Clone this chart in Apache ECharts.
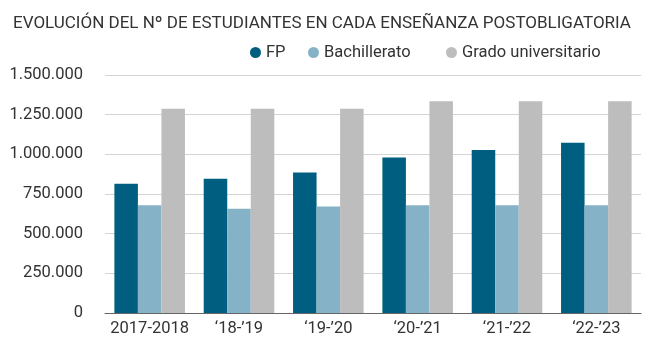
<!DOCTYPE html>
<html><head><meta charset="utf-8">
<script src="https://cdn.jsdelivr.net/npm/echarts@6/dist/echarts.min.js"></script>
<style>html,body{margin:0;padding:0;background:#fff}#c{width:669px;height:342px}</style>
</head><body><div id="c"></div>
<script>
const categories = ['2017-2018', '\u201818-\u201919', '\u201819-\u201920', '\u201820-\u201921', '\u201821-\u201922', '\u201822-\u201923'];
const fp = [814000, 846000, 886000, 980000, 1027000, 1073000];
const bachillerato = [679000, 657000, 671000, 679000, 679000, 679000];
const grado = [1288000, 1288000, 1288000, 1334000, 1334000, 1334000];
const yTicks = [0, 250000, 500000, 750000, 1000000, 1250000, 1500000];
const seriesNames = ['FP', 'Bachillerato', 'Grado universitario'];

const fmt = v => String(v).replace(/\B(?=(\d{3})+(?!\d))/g, '.');
const chart = echarts.init(document.getElementById('c'));
const font = 'Roboto';
const legendBase = {
  top: 39, icon: 'circle', itemWidth: 11, itemHeight: 11,
  textStyle: {fontFamily: font, fontSize: 16.5, color: '#333'}
};
chart.setOption({
  animation: false,
  title: {
    text: 'EVOLUCIÓN DEL Nº DE ESTUDIANTES EN CADA ENSEÑANZA POSTOBLIGATORIA',
    left: 8, top: 10,
    textStyle: {fontFamily: font, fontSize: 17, fontWeight: 'normal', color: '#333'}
  },
  legend: [
    Object.assign({}, legendBase, {left: 245, data: [seriesNames[0]]}),
    Object.assign({}, legendBase, {left: 303, data: [seriesNames[1]]}),
    Object.assign({}, legendBase, {left: 441, data: [seriesNames[2]]})
  ],
  grid: {left: 105, right: 28, top: 75, bottom: 29, containLabel: false},
  xAxis: {
    type: 'category', data: categories,
    axisLine: {lineStyle: {color: '#666', width: 1}},
    axisTick: {show: false},
    axisLabel: {fontFamily: font, fontSize: 16.5, color: '#333', margin: 7, interval: 0}
  },
  yAxis: {
    type: 'value', min: yTicks[0], max: yTicks[yTicks.length - 1], interval: yTicks[1] - yTicks[0],
    axisLine: {show: false}, axisTick: {show: false},
    splitLine: {lineStyle: {color: '#d4d4d4', width: 1}},
    axisLabel: {fontFamily: font, fontSize: 16.5, color: '#333', margin: 22, formatter: fmt}
  },
  series: [
    {name: seriesNames[0], type: 'bar', data: fp, itemStyle: {color: '#005f80'}, barGap: '0%', barCategoryGap: '21%'},
    {name: seriesNames[1], type: 'bar', data: bachillerato, itemStyle: {color: '#86b2c8'}},
    {name: seriesNames[2], type: 'bar', data: grado, itemStyle: {color: '#bdbdbd'}}
  ]
});
</script></body></html>
